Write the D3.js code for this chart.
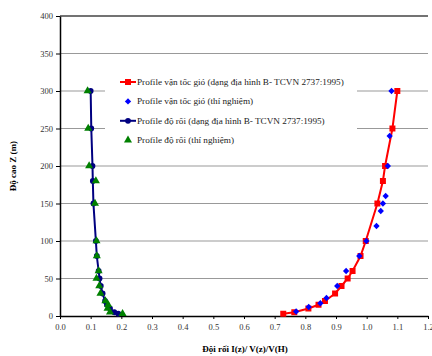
<!DOCTYPE html>
<html>
<head>
<meta charset="utf-8">
<script src="https://cdn.jsdelivr.net/npm/d3@7"></script>
<style>
  body { margin: 0; background: #fff; }
  svg { display: block; font-family: "Liberation Serif", "Times New Roman", serif; }
</style>
</head>
<body>
<svg id="chart" width="432" height="356"></svg>
<script>
// wind speed profile, TCVN 2737:1995 terrain B
const windHeights = [3, 5, 10, 15, 20, 30, 40, 50, 60, 80, 100, 150, 180, 200, 250, 300];
const windTcvn = [0.728, 0.764, 0.810, 0.843, 0.864, 0.897, 0.918, 0.938, 0.954, 0.980, 0.997, 1.035, 1.053, 1.060, 1.084, 1.100];

// wind speed profile, experiment
const windTestHeights = [6, 12, 17, 24, 40, 60, 80, 100, 120, 140, 150, 160, 200, 240, 300];
const windTest = [0.770, 0.811, 0.849, 0.869, 0.904, 0.933, 0.976, 0.999, 1.032, 1.046, 1.053, 1.062, 1.069, 1.075, 1.081];

// turbulence profile
const turbHeights = [3, 5, 10, 15, 20, 30, 40, 50, 60, 80, 100, 150, 180, 200, 250, 300];
const turbTcvn = [0.190, 0.177, 0.163, 0.153, 0.147, 0.139, 0.133, 0.129, 0.126, 0.120, 0.117, 0.109, 0.107, 0.106, 0.102, 0.100];
const turbTest = [0.204, 0.163, 0.155, 0.157, 0.148, 0.132, 0.128, 0.119, 0.126, 0.120, 0.119, 0.114, 0.117, 0.095, 0.092, 0.090];

const xTicks = [0, 0.1, 0.2, 0.3, 0.4, 0.5, 0.6, 0.7, 0.8, 0.9, 1.0, 1.1, 1.2];
const yTicks = [0, 50, 100, 150, 200, 250, 300, 350, 400];

const legendLabels = [
  "Profile vận tốc gió (dạng địa hình B- TCVN 2737:1995)",
  "Profile vận tốc gió (thí nghiệm)",
  "Profile độ rối (dạng địa hình B- TCVN 2737:1995)",
  "Profile độ rối (thí nghiệm)"
];

const xTitle = "Đội rối I(z)/ V(z)/V(H)";
const yTitle = "Độ cao Z (m)";

const svg = d3.select("#chart");
const margin = { left: 60, right: 4, top: 16, bottom: 40 };
const width = 432 - margin.left - margin.right;
const height = 356 - margin.top - margin.bottom;

const g = svg.append("g")
  .attr("transform", `translate(${margin.left},${margin.top})`);

const xScale = d3.scaleLinear().domain([0, 1.2]).range([0, width]);
const yScale = d3.scaleLinear().domain([0, 400]).range([height, 0]);

// gridlines
g.append("g")
  .selectAll("line")
  .data(yTicks.filter(d => d > 0))
  .join("line")
  .attr("x1", 0)
  .attr("x2", width)
  .attr("y1", d => yScale(d))
  .attr("y2", d => yScale(d))
  .attr("stroke", d => d === 400 ? "#444" : "#999")
  .attr("stroke-width", d => d === 400 ? 1.3 : 1);

// axes
const xAxisG = g.append("g")
  .attr("transform", `translate(0,${height})`)
  .call(d3.axisBottom(xScale).tickValues(xTicks).tickFormat(d3.format(".1f")).tickSize(3).tickSizeOuter(0));

const yAxisG = g.append("g")
  .call(d3.axisLeft(yScale).tickValues(yTicks).tickSize(4).tickSizeOuter(0));

[xAxisG, yAxisG].forEach(a => {
  a.select(".domain").attr("stroke", "#000").attr("stroke-width", 1.5);
  a.selectAll(".tick line").attr("stroke", "#000");
  a.selectAll("text")
    .attr("font-family", "Liberation Serif, serif")
    .attr("font-size", 8.5)
    .attr("fill", "#333");
});
xAxisG.selectAll("text").attr("dy", "0.9em");

// legend background covers the gridlines
const legend = g.append("g").attr("transform", "translate(45,52)");
legend.append("rect")
  .attr("x", 0).attr("y", 0)
  .attr("width", 252).attr("height", 84)
  .attr("fill", "#fff");

const symSquare = d3.symbol().type(d3.symbolSquare).size(36);
const symDiamond = d3.symbol().type(d3.symbolSquare).size(20);
const symCircle = d3.symbol().type(d3.symbolCircle).size(26);
const symTriangle = d3.symbol().type(d3.symbolTriangle).size(28);

const series = [
  { x: windTcvn, h: windHeights, color: "#ff0000", line: true, sym: symSquare, rot: 0 },
  { x: windTest, h: windTestHeights, color: "#0000ff", line: false, sym: symDiamond, rot: 45 },
  { x: turbTcvn, h: turbHeights, color: "#000080", line: true, sym: symCircle, rot: 0 },
  { x: turbTest, h: turbHeights, color: "#008000", line: false, sym: symTriangle, rot: 0 }
];

const lineGen = d3.line()
  .x(d => xScale(d[0]))
  .y(d => yScale(d[1]));

series.forEach(s => {
  const pts = s.x.map((v, i) => [v, s.h[i]]);
  if (s.line) {
    g.append("path")
      .datum(pts)
      .attr("d", lineGen)
      .attr("fill", "none")
      .attr("stroke", s.color)
      .attr("stroke-width", 2);
  }
  g.append("g")
    .selectAll("path")
    .data(pts)
    .join("path")
    .attr("d", s.sym())
    .attr("transform", d => `translate(${xScale(d[0])},${yScale(d[1])}) rotate(${s.rot})`)
    .attr("fill", s.color);
});

// legend entries
const rows = legend.selectAll(".row")
  .data(series)
  .join("g")
  .attr("class", "row")
  .attr("transform", (d, i) => `translate(0,${14 + i * 19.4})`);

rows.filter(d => d.line)
  .append("line")
  .attr("x1", 15).attr("x2", 31)
  .attr("stroke", d => d.color)
  .attr("stroke-width", 2);

rows.append("path")
  .attr("d", d => d.sym())
  .attr("transform", d => `translate(23,0) rotate(${d.rot})`)
  .attr("fill", d => d.color);

rows.append("text")
  .attr("x", 32)
  .attr("dy", "0.32em")
  .attr("font-size", 9.2)
  .attr("fill", "#222")
  .text((d, i) => legendLabels[i]);

// axis titles
svg.append("text")
  .attr("x", 245)
  .attr("y", 352)
  .attr("text-anchor", "middle")
  .attr("font-size", 9)
  .attr("font-weight", "bold")
  .text(xTitle);

svg.append("text")
  .attr("transform", "translate(16,166) rotate(-90)")
  .attr("text-anchor", "middle")
  .attr("font-size", 9)
  .attr("font-weight", "bold")
  .text(yTitle);
</script>
</body>
</html>
